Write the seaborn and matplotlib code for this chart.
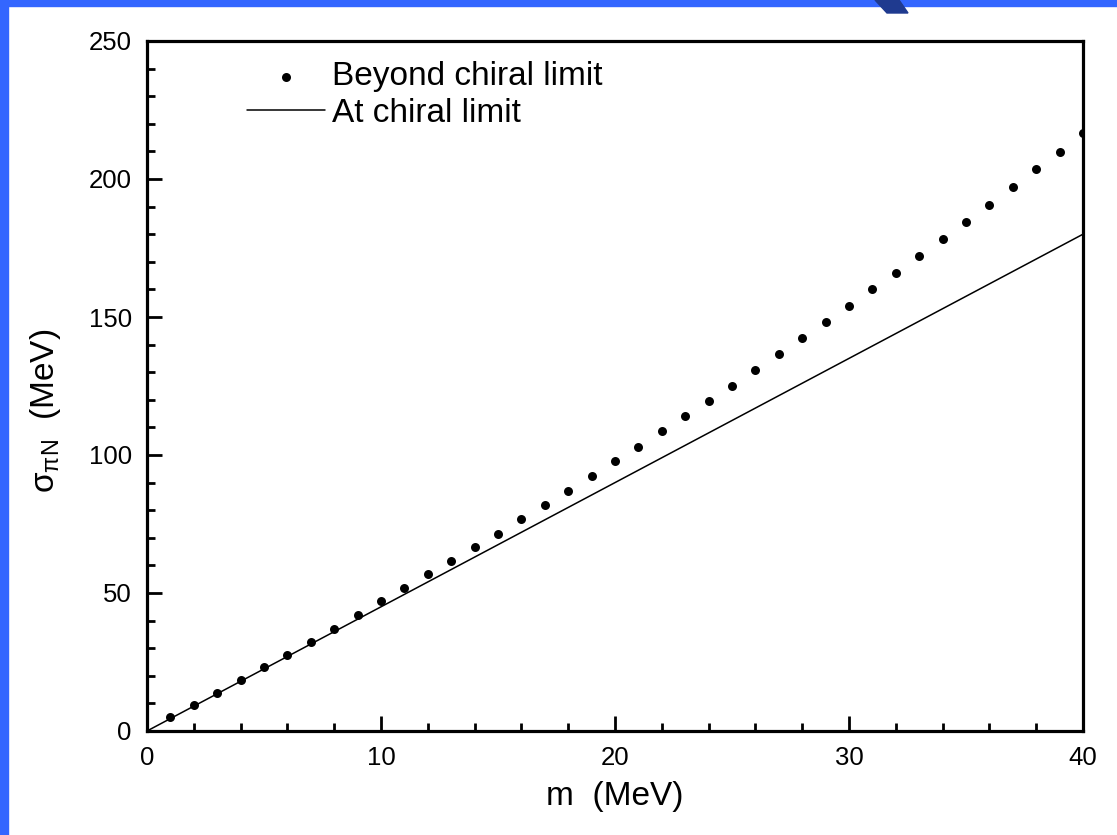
import matplotlib
matplotlib.use("Agg")
import matplotlib.pyplot as plt
from matplotlib.patches import Rectangle, Polygon
from matplotlib.ticker import MultipleLocator
import seaborn as sns
import pandas as pd

# ---- data ----
m_beyond = list(range(1, 41))
sigma_beyond = [5.0, 9.4, 13.8, 18.4, 23.1, 27.7, 32.4, 37.0, 41.9, 47.0,
                51.7, 56.8, 61.5, 66.7, 71.5, 76.7, 82.0, 87.1, 92.5, 97.8,
                103.0, 108.6, 114.1, 119.6, 125.1, 130.7, 136.5, 142.3, 148.3, 154.1,
                160.1, 166.0, 172.1, 178.2, 184.3, 190.6, 197.0, 203.5, 209.9, 216.6]
m_chiral = [0, 10, 20, 30, 40]
sigma_chiral = [0, 45, 90, 135, 180]

label_beyond = "Beyond chiral limit"
label_chiral = "At chiral limit"
x_label = "m  (MeV)"
y_label = r"σ$_{\pi N}$  (MeV)"
x_ticks = [0, 10, 20, 30, 40]
y_ticks = [0, 50, 100, 150, 200, 250]

df_b = pd.DataFrame({"m": m_beyond, "sigma": sigma_beyond})
df_c = pd.DataFrame({"m": m_chiral, "sigma": sigma_chiral})

sns.set_theme(style="white")
plt.rcParams["font.family"] = ["Liberation Sans", "DejaVu Sans"]
plt.rcParams["mathtext.fontset"] = "custom"
plt.rcParams["mathtext.rm"] = "Liberation Sans"
plt.rcParams["mathtext.it"] = "Liberation Sans"
plt.rcParams["mathtext.default"] = "regular"
plt.rcParams["text.color"] = "black"
plt.rcParams["axes.labelcolor"] = "black"
plt.rcParams["xtick.color"] = "black"
plt.rcParams["ytick.color"] = "black"

W, H = 1117, 835
fig = plt.figure(figsize=(W / 100, H / 100), dpi=100)
fig.patch.set_facecolor("white")

# slide decoration (blue border)
blue = "#3366ff"
fig.patches.append(Rectangle((0, 0), 8 / W, 1, transform=fig.transFigure, color=blue, zorder=0))
fig.patches.append(Rectangle((0, 1 - 6 / H), 1, 6 / H, transform=fig.transFigure, color=blue, zorder=0))
wedge = [(875 / W, 1), (899 / W, 1), (908 / W, 1 - 13 / H), (887 / W, 1 - 13 / H)]
fig.patches.append(Polygon(wedge, closed=True, transform=fig.transFigure, color="#1f3a8f", zorder=1))

left, right, bottom, top = 147, 1083, 731, 41
ax = fig.add_axes([left / W, 1 - bottom / H, (right - left) / W, (bottom - top) / H])
ax.set_facecolor("white")

sns.scatterplot(data=df_b, x="m", y="sigma", ax=ax, color="black", marker="o",
                s=42, edgecolor="black", linewidth=0, label=label_beyond, zorder=3)
sns.lineplot(data=df_c, x="m", y="sigma", ax=ax, color="black", linewidth=1.1,
             label=label_chiral, zorder=2)

ax.set_xlim(0, 40)
ax.set_ylim(0, 250)
ax.set_xticks(x_ticks)
ax.set_yticks(y_ticks)
ax.xaxis.set_minor_locator(MultipleLocator(2))
ax.yaxis.set_minor_locator(MultipleLocator(10))

for s in ax.spines.values():
    s.set_visible(True)
    s.set_color("black")
    s.set_linewidth(2.3)

ax.tick_params(axis="both", which="major", direction="in", length=11, width=2.0,
               labelsize=18.5, pad=11, colors="black", top=False, right=False,
               bottom=True, left=True)
ax.tick_params(axis="both", which="minor", direction="in", length=6, width=2.0,
               top=False, right=False, bottom=True, left=True)

ax.set_xlabel(x_label, fontsize=24, color="black")
ax.set_ylabel(y_label, fontsize=24, color="black")
ax.xaxis.set_label_coords(0.5, -0.072)
ax.yaxis.set_label_coords(-0.09, 0.464)

handles, labels = ax.get_legend_handles_labels()
leg = ax.legend(handles, labels, loc="center left",
                bbox_to_anchor=(247 / W, 1 - 95 / H), bbox_transform=fig.transFigure,
                frameon=False, fontsize=24, handlelength=2.35, handletextpad=0.2,
                borderpad=0, borderaxespad=0, labelspacing=0.15, markerscale=1.0)
for t in leg.get_texts():
    t.set_color("black")

fig.savefig("out.png", dpi=100, facecolor=fig.get_facecolor())
